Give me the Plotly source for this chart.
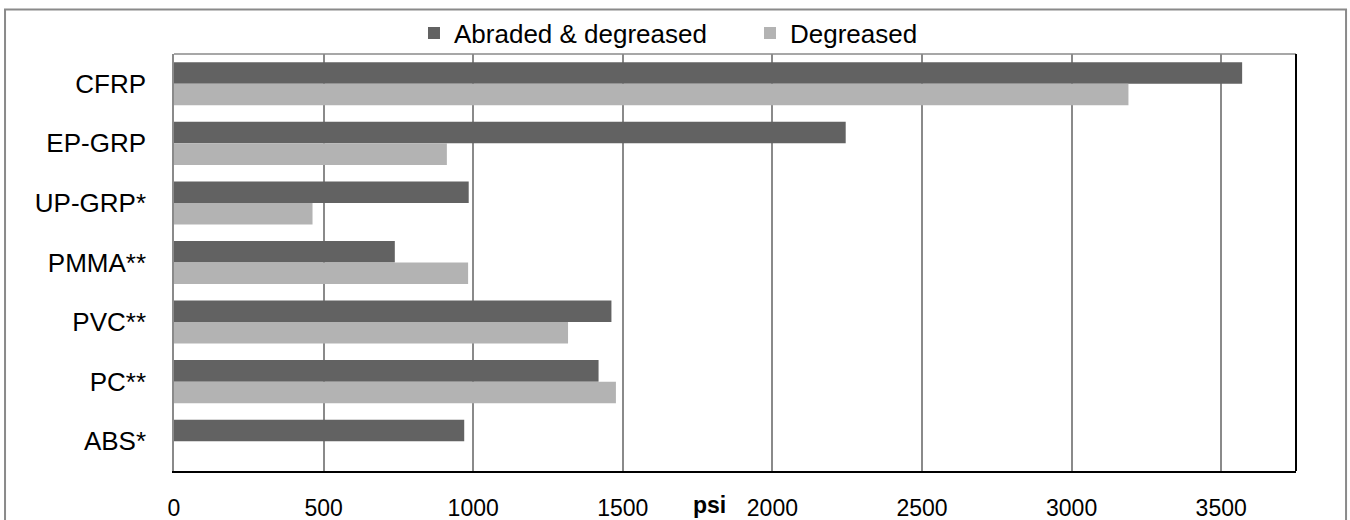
import plotly.graph_objects as go

categories = ["CFRP", "EP-GRP", "UP-GRP*", "PMMA**", "PVC**", "PC**", "ABS*"]
abraded = [3570, 2245, 985, 738, 1462, 1419, 970]
degreased = [3190, 912, 463, 983, 1317, 1477, None]
series_names = ["Abraded & degreased", "Degreased"]
x_ticks = [0, 500, 1000, 1500, 2000, 2500, 3000, 3500]

DARK = "#626262"
LIGHT = "#b3b3b3"
GRID = "#8a8a8a"
FONT = "Liberation Sans, Arial, sans-serif"

fig = go.Figure()
fig.add_trace(go.Bar(y=categories, x=abraded, name=series_names[0], orientation="h",
                     marker=dict(color=DARK, line=dict(width=0))))
fig.add_trace(go.Bar(y=categories, x=degreased, name=series_names[1], orientation="h",
                     marker=dict(color=LIGHT, line=dict(width=0))))

fig.update_layout(
    width=1350, height=520,
    margin=dict(l=174, r=54, t=54, b=48.5, pad=0, autoexpand=False),
    paper_bgcolor="white", plot_bgcolor="white",
    barmode="group", bargap=0.277, bargroupgap=0,
    font=dict(family=FONT, color="black"),
    showlegend=True,
    legend=dict(orientation="h", x=0.2139, xanchor="left", y=1.05, yanchor="middle",
                font=dict(size=26, family=FONT), entrywidth=291, traceorder="normal",
                bgcolor="rgba(0,0,0,0)"),
    xaxis=dict(range=[0, 3750], tickvals=x_ticks, ticktext=[str(v) for v in x_ticks],
               showgrid=True, gridcolor=GRID, gridwidth=1.5, zeroline=False,
               showline=True, linecolor="black", linewidth=2, automargin=False,
               ticks="", tickfont=dict(size=23, family=FONT), ticklabelstandoff=15),
    yaxis=dict(categoryorder="array", categoryarray=categories, autorange="reversed",
               showgrid=False, zeroline=False, showline=True, linecolor=GRID, linewidth=1.5,
               automargin=False,
               ticks="", tickfont=dict(size=26, family=FONT), ticklabelstandoff=21),
)

# plot area top (gray) and right (black) borders
fig.add_shape(type="line", xref="paper", yref="paper", x0=0, x1=1, y0=1, y1=1,
              line=dict(color=GRID, width=1.5))
fig.add_shape(type="line", xref="paper", yref="paper", x0=1, x1=1, y0=0, y1=1,
              line=dict(color="black", width=2))
# outer chart border
fig.add_shape(type="rect", xref="paper", yref="paper", x0=-0.1506, x1=1.0446,
              y0=-0.25, y1=1.1066, line=dict(color=GRID, width=2))

fig.add_annotation(text="<b>psi</b>", x=1790, xref="x", y=-0.0826, yref="paper",
                   xanchor="center", yanchor="middle", showarrow=False,
                   font=dict(size=23, family=FONT, color="black"))

fig.write_html("out.html", config={"displayModeBar": False},
               post_script="document.body.style.margin='0';document.body.style.overflow='hidden';")
